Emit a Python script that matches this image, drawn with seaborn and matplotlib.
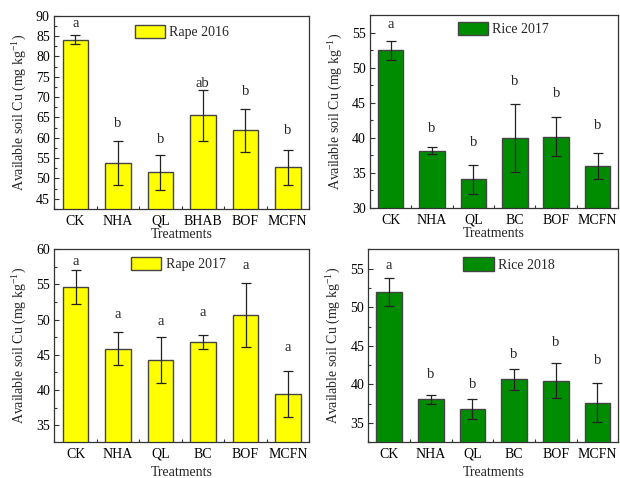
import numpy as np
import pandas as pd
import matplotlib
matplotlib.use("Agg")
import matplotlib.pyplot as plt
import seaborn as sns
from matplotlib.ticker import MultipleLocator, FixedLocator

# ---------------- data ----------------
cats_r16 = ["CK", "NHA", "QL", "BHAB", "BOF", "MCFN"]
mean_r16 = [84.1, 53.8, 51.5, 65.5, 61.8, 52.8]
err_r16 = [1.05, 5.5, 4.3, 6.2, 5.3, 4.3]
let_r16 = ["a", "b", "b", "ab", "b", "b"]
lety_r16 = [87.2, 62.7, 58.8, 72.6, 70.4, 60.9]

cats_c17 = ["CK", "NHA", "QL", "BC", "BOF", "MCFN"]
mean_c17 = [52.5, 38.2, 34.1, 40.0, 40.15, 36.0]
err_c17 = [1.4, 0.55, 2.05, 4.9, 2.8, 1.9]
let_c17 = ["a", "b", "b", "b", "b", "b"]
lety_c17 = [55.7, 40.9, 38.8, 47.6, 45.8, 41.25]

cats_r17 = ["CK", "NHA", "QL", "BC", "BOF", "MCFN"]
mean_r17 = [54.6, 45.85, 44.3, 46.8, 50.65, 39.45]
err_r17 = [2.45, 2.35, 3.25, 1.0, 4.6, 3.2]
let_r17 = ["a", "a", "a", "a", "a", "a"]
lety_r17 = [57.76, 50.27, 49.27, 50.5, 57.2, 45.57]

cats_c18 = ["CK", "NHA", "QL", "BC", "BOF", "MCFN"]
mean_c18 = [51.97, 38.1, 36.8, 40.66, 40.49, 37.64]
err_c18 = [1.75, 0.58, 1.27, 1.36, 2.29, 2.48]
let_c18 = ["a", "b", "b", "b", "b", "b"]
lety_c18 = [54.9, 40.84, 39.55, 43.38, 44.94, 42.66]

titles = ["Rape 2016", "Rice 2017", "Rape 2017", "Rice 2018"]

# ---------------- style ----------------
sns.set_theme(style="ticks")
plt.rcParams["font.family"] = ["Liberation Serif", "DejaVu Serif"]
plt.rcParams["mathtext.fontset"] = "custom"
plt.rcParams["mathtext.rm"] = "Liberation Serif"
plt.rcParams["mathtext.it"] = "Liberation Serif:italic"
plt.rcParams["font.size"] = 10

YELLOW = "#FFFF00"
GREEN = "#008C00"
EDGE = "#444444"
SPINE = "#333333"

fig = plt.figure(figsize=(6.2, 4.78), dpi=100)

panels = [
    dict(cats=cats_r16, mean=mean_r16, err=err_r16, let=let_r16, lety=lety_r16,
         color=YELLOW, ylim=(42.5, 90), major=5, rect=(54, 15.7, 255, 193.3),
         leg=(0.316, 0.917), xlpad=0.5, width=0.6),
    dict(cats=cats_c17, mean=mean_c17, err=err_c17, let=let_c17, lety=lety_c17,
         color=GREEN, ylim=(30, 57.5), major=5, rect=(369.8, 15.3, 248.5, 192.7),
         leg=(0.354, 0.928), xlpad=0.5, width=0.62),
    dict(cats=cats_r17, mean=mean_r17, err=err_r17, let=let_r17, lety=lety_r17,
         color=YELLOW, ylim=(32.6, 60), major=5, rect=(54.3, 249, 255, 193.3),
         leg=(0.30, 0.921), xlpad=3.5, width=0.6),
    dict(cats=cats_c18, mean=mean_c18, err=err_c18, let=let_c18, lety=lety_c18,
         color=GREEN, ylim=(32.5, 57.5), major=5, rect=(368.3, 249.3, 250, 193),
         leg=(0.38, 0.921), xlpad=3.5, width=0.62),
]

W, H = 620.0, 478.0
for p, title in zip(panels, titles):
    l, t, w, h = p["rect"]
    ax = fig.add_axes([l / W, 1 - (t + h) / H, w / W, h / H])
    df = pd.DataFrame({"Treatment": p["cats"], "Cu": p["mean"]})
    sns.barplot(data=df, x="Treatment", y="Cu", order=p["cats"], color=p["color"],
                saturation=1, width=p["width"], edgecolor=EDGE, linewidth=1.0,
                errorbar=None, ax=ax)
    x = np.arange(len(p["cats"]))
    ax.errorbar(x, p["mean"], yerr=p["err"], fmt="none", ecolor="#222222",
                elinewidth=0.9, capsize=3.6, capthick=0.9, zorder=5)
    for xi, lab, ly in zip(x, p["let"], p["lety"]):
        ax.text(xi, ly, lab, ha="center", va="baseline", fontsize=10.5)
    ax.set_xlim(-0.5, len(p["cats"]) - 0.5)
    ax.set_ylim(*p["ylim"])
    ax.yaxis.set_major_locator(MultipleLocator(p["major"]))
    ax.yaxis.set_minor_locator(MultipleLocator(p["major"] / 2))
    ax.xaxis.set_minor_locator(FixedLocator(np.arange(-0.5, len(p["cats"]), 1.0)))
    ax.tick_params(axis="both", which="major", direction="in", length=3.5,
                   width=0.8, color=SPINE, labelsize=10, pad=3, colors="black")
    ax.tick_params(axis="both", which="minor", direction="in", length=2,
                   width=0.8, color=SPINE)
    ax.tick_params(axis="x", which="major", pad=4)
    for s in ax.spines.values():
        s.set_visible(True)
        s.set_color(SPINE)
        s.set_linewidth(0.9)
    ax.set_xlabel("Treatments", fontsize=10, labelpad=p["xlpad"])
    ax.set_ylabel("Available soil Cu (mg kg$^{\\mathrm{-1}}$)", fontsize=10, labelpad=5)
    ax.set_facecolor("white")
    handle = ax.patches[0]
    ax.legend([handle], [title], loc="center left", bbox_to_anchor=p["leg"],
              frameon=False, borderpad=0, borderaxespad=0, handlelength=2.2,
              handleheight=1.1, handletextpad=0.3, fontsize=10)

fig.savefig("out.png", dpi=100, facecolor="white")
